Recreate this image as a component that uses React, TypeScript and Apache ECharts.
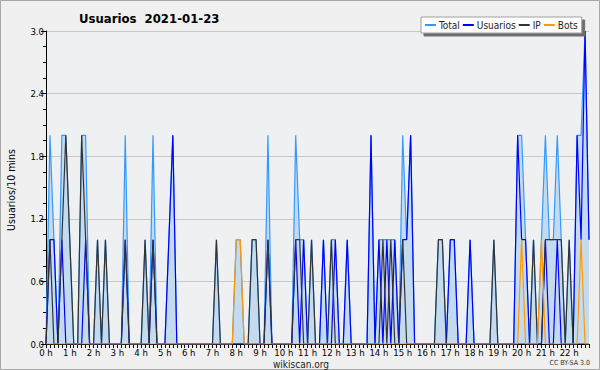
import React, { useEffect, useRef } from "react";
import * as echarts from "echarts";

// 10-minute slots, 0:00 .. 22:50
const slots: string[] = Array.from({ length: 138 }, (_, i) => `${Math.floor(i / 6)}:${i % 6}0`);

const yTicks = [0, 0.6, 1.2, 1.8, 2.4, 3.0];

const total = [
  0, 2, 1, 0, 2, 2, 1, 0, 0, 2, 2, 0,
  0, 1, 0, 1, 0, 0, 0, 0, 2, 0, 0, 0,
  0, 1, 0, 2, 0, 0, 0, 1, 2, 0, 0, 0,
  0, 0, 0, 0, 0, 0, 0, 1, 0, 0, 0, 0,
  1, 1, 0, 0, 1, 1, 0, 0, 2, 0, 0, 0,
  0, 0, 0, 2, 1, 1, 0, 1, 0, 0, 1, 0,
  1, 1, 0, 0, 1, 0, 0, 0, 0, 0, 2, 0,
  1, 1, 1, 1, 1, 0, 2, 1, 2, 0, 0, 0,
  0, 0, 0, 1, 1, 0, 1, 1, 0, 0, 0, 1,
  0, 0, 0, 0, 0, 1, 0, 0, 0, 0, 0, 2,
  2, 1, 0, 1, 0, 1, 2, 1, 1, 2, 1, 0,
  1, 0, 2, 2, 3, 1,
];

const usuarios = [
  0, 1, 1, 0, 1, 0, 0, 0, 0, 0, 1, 0,
  0, 0, 0, 0, 0, 0, 0, 0, 1, 0, 0, 0,
  0, 0, 0, 1, 0, 0, 0, 1, 2, 0, 0, 0,
  0, 0, 0, 0, 0, 0, 0, 0, 0, 0, 0, 0,
  0, 0, 0, 0, 0, 0, 0, 0, 1, 0, 0, 0,
  0, 0, 0, 1, 0, 1, 0, 0, 0, 0, 1, 0,
  0, 1, 0, 0, 1, 0, 0, 0, 0, 0, 2, 0,
  1, 0, 1, 0, 1, 0, 1, 1, 2, 0, 0, 0,
  0, 0, 0, 0, 0, 0, 1, 1, 0, 0, 0, 1,
  0, 0, 0, 0, 0, 0, 0, 0, 0, 0, 0, 2,
  1, 1, 0, 0, 0, 0, 1, 0, 0, 1, 0, 0,
  0, 0, 2, 1, 3, 1,
];

const ip = [
  0, 1, 0, 0, 1, 2, 1, 0, 0, 2, 1, 0,
  0, 1, 0, 1, 0, 0, 0, 0, 1, 0, 0, 0,
  0, 1, 0, 1, 0, 0, 0, 0, 0, 0, 0, 0,
  0, 0, 0, 0, 0, 0, 0, 1, 0, 0, 0, 0,
  0, 0, 0, 0, 1, 1, 0, 0, 1, 0, 0, 0,
  0, 0, 0, 1, 1, 0, 0, 1, 0, 0, 0, 0,
  1, 0, 0, 0, 0, 0, 0, 0, 0, 0, 0, 0,
  0, 1, 0, 1, 0, 0, 1, 0, 0, 0, 0, 0,
  0, 0, 0, 1, 1, 0, 0, 0, 0, 0, 0, 0,
  0, 0, 0, 0, 0, 1, 0, 0, 0, 0, 0, 0,
  0, 0, 0, 1, 0, 0, 1, 1, 1, 1, 1, 0,
  1, 0, 0, 0, 0, 0,
];

const bots = [
  0, 0, 0, 0, 0, 0, 0, 0, 0, 0, 0, 0,
  0, 0, 0, 0, 0, 0, 0, 0, 0, 0, 0, 0,
  0, 0, 0, 0, 0, 0, 0, 0, 0, 0, 0, 0,
  0, 0, 0, 0, 0, 0, 0, 0, 0, 0, 0, 0,
  1, 1, 0, 0, 0, 0, 0, 0, 0, 0, 0, 0,
  0, 0, 0, 0, 0, 0, 0, 0, 0, 0, 0, 0,
  0, 0, 0, 0, 0, 0, 0, 0, 0, 0, 0, 0,
  0, 0, 0, 0, 0, 0, 0, 0, 0, 0, 0, 0,
  0, 0, 0, 0, 0, 0, 0, 0, 0, 0, 0, 0,
  0, 0, 0, 0, 0, 0, 0, 0, 0, 0, 0, 0,
  1, 0, 0, 0, 0, 1, 0, 0, 0, 0, 0, 0,
  0, 0, 0, 1, 0, 0,
];

const seriesNames = ["Total", "Usuarios", "IP", "Bots"];
const seriesColors = ["#3399ff", "#0000ff", "#333333", "#ff9900"];

const FONT = "'DejaVu Sans Condensed', 'DejaVu Sans', sans-serif";

export default function App() {
  const ref = useRef<HTMLDivElement>(null);
  useEffect(() => {
    document.body.style.margin = "0";
    if (!ref.current) return;
    const chart = echarts.init(ref.current, null, { renderer: "svg" });
    const lineSeries = (idx: number, data: number[], extra: any = {}) => ({
      name: seriesNames[idx],
      type: "line",
      data,
      symbol: "none",
      lineStyle: { color: seriesColors[idx], width: 1.2 },
      itemStyle: { color: seriesColors[idx] },
      ...extra,
    });
    chart.setOption({
      animation: false,
      backgroundColor: "#f0f0f0",
      textStyle: { fontFamily: FONT },
      title: {
        text: "Usuarios  2021-01-23",
        left: 74,
        top: 7,
        textStyle: { fontFamily: FONT, fontSize: 13, fontWeight: "bold", color: "#000" },
      },
      legend: {
        data: seriesNames.map((n, i) => ({
          name: n,
          itemStyle: { color: seriesColors[i] },
        })),
        orient: "horizontal",
        left: 421,
        top: 17,
        width: 175,
        padding: [3, 4, 3, 4],
        itemGap: 3,
        itemWidth: 11,
        itemHeight: 2,
        icon: "rect",
        backgroundColor: "#ffffff",
        borderColor: "#a0a0a0",
        borderWidth: 1,
        shadowColor: "rgba(110,110,110,1)",
        shadowOffsetX: 3,
        shadowOffsetY: 3,
        shadowBlur: 0,
        textStyle: { fontFamily: FONT, fontSize: 10, color: "#222", padding: [0, 0, 0, -2] },
      },
      grid: {
        left: 46,
        right: 11,
        top: 31,
        bottom: 26,
        show: true,
        backgroundColor: "#eef0f2",
        borderWidth: 0,
      },
      xAxis: {
        type: "category",
        data: slots,
        boundaryGap: false,
        axisLine: { lineStyle: { color: "#000", width: 1 } },
        axisTick: { interval: 0, length: 4, lineStyle: { color: "#000" } },
        axisLabel: {
          interval: (i: number) => i % 6 === 0,
          formatter: (_v: string, i: number) => `${Math.floor(i / 6)} h`,
          fontFamily: FONT,
          fontSize: 9.5,
          lineHeight: 9,
          color: "#000",
          margin: 4,
        },
        splitLine: { show: false },
      },
      yAxis: {
        type: "value",
        min: yTicks[0],
        max: yTicks[yTicks.length - 1],
        interval: 0.6,
        axisLine: { show: true, lineStyle: { color: "#000", width: 1 } },
        axisTick: { show: true, length: 5, lineStyle: { color: "#000" } },
        minorTick: { show: true, splitNumber: 4, length: 3, lineStyle: { color: "#000" } },
        axisLabel: {
          formatter: (v: number) => v.toFixed(1),
          fontFamily: FONT,
          fontSize: 9.5,
          lineHeight: 7,
          color: "#000",
          margin: 2,
        },
        splitLine: { show: true, lineStyle: { color: "#c8c8c8", width: 1 } },
      },
      series: [
        lineSeries(0, total, {
          areaStyle: { color: "#c4dbef", opacity: 1 },
          z: 1,
        }),
        lineSeries(1, usuarios, { z: 2 }),
        lineSeries(2, ip, { z: 3 }),
        lineSeries(3, bots, { z: 4 }),
      ],
      graphic: [
        {
          type: "rect",
          shape: { x: 0.5, y: 0.5, width: 599, height: 369 },
          style: { fill: "none", stroke: "#a8a8a8", lineWidth: 1 },
          silent: true,
        },
        {
          type: "text",
          x: 5,
          y: 190,
          rotation: Math.PI / 2,
          style: {
            text: "Usuarios/10 mins",
            fontFamily: FONT,
            fontSize: 10.5,
            fill: "#000",
            align: "center",
            verticalAlign: "top",
          },
        },
        {
          type: "text",
          x: 301,
          y: 364,
          style: {
            text: "wikiscan.org",
            fontFamily: FONT,
            fontSize: 10,
            lineHeight: 10,
            fill: "#222",
            align: "center",
            verticalAlign: "middle",
          },
        },
        {
          type: "text",
          x: 590,
          y: 363,
          style: {
            text: "CC BY-SA 3.0",
            fontFamily: FONT,
            fontSize: 7,
            fill: "#333",
            align: "right",
            verticalAlign: "middle",
          },
        },
      ],
    });
    return () => chart.dispose();
  }, []);
  return <div ref={ref} style={{ width: 600, height: 370 }} />;
}
